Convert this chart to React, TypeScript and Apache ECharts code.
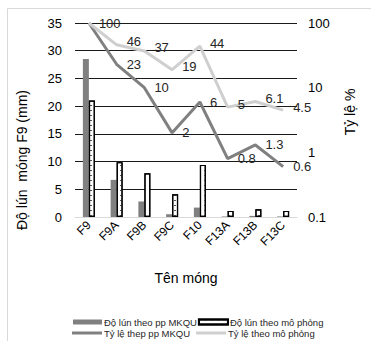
import React, { useEffect, useRef } from "react";
import * as echarts from "echarts";

const categories = ["F9", "F9A", "F9B", "F9C", "F10", "F13A", "F13B", "F13C"];
const settleMKQU = [28.5, 6.7, 2.8, 0.5, 1.7, 0.1, 0.2, 0.1];
const settleSim = [21, 9.9, 7.9, 4.1, 9.4, 1.1, 1.4, 1.1];
const ratioMKQU = [100, 23, 10, 2, 6, 0.8, 1.3, 0.6];
const ratioSim = [100, 46, 37, 19, 44, 5, 6.1, 4.5];
const leftTicks = { min: 0, max: 35, interval: 5 };
const rightTicks = { min: 0.1, max: 100 };

const FONT = "Liberation Sans, Arial, sans-serif";

export default function App() {
  const ref = useRef<HTMLDivElement>(null);
  useEffect(() => {
    if (!ref.current) return;
    const chart = echarts.init(ref.current, null, { renderer: "svg" });
    const labelStyle = {
      show: true,
      position: "right" as const,
      distance: 10,
      fontSize: 13,
      color: "#262626",
      fontFamily: FONT,
    };
    chart.setOption({
      animation: false,
      textStyle: { fontFamily: FONT },
      grid: { left: 75, right: 74, top: 23, bottom: 124, containLabel: false },
      graphic: [
        {
          type: "rect",
          shape: { x: 7.5, y: 8.5, width: 420, height: 420 },
          style: { fill: "none", stroke: "#d9d9d9", lineWidth: 1 },
          silent: true,
        },
        {
          type: "text",
          x: 22,
          y: 160,
          rotation: Math.PI / 2,
          style: {
            text: "Độ lún  móng F9 (mm)",
            fontSize: 14,
            fill: "#000",
            fontFamily: FONT,
            align: "center",
            verticalAlign: "middle",
          },
        },
        {
          type: "text",
          x: 350,
          y: 112,
          rotation: Math.PI / 2,
          style: {
            text: "Tỷ lệ %",
            fontSize: 14,
            fill: "#000",
            fontFamily: FONT,
            align: "center",
            verticalAlign: "middle",
          },
        },
      ],
      legend: [
        {
          left: 68,
          top: 312,
          itemWidth: 29,
          itemHeight: 5,
          itemGap: 1,
          textStyle: { fontSize: 9.5, color: "#262626", fontFamily: FONT, padding: [0, 0, 0, -3] },
          data: [
            { name: "Độ lún theo pp MKQU", icon: "rect" },
            { name: "Độ lún theo mô phỏng", icon: "rect" },
          ],
        },
        {
          left: 67,
          top: 323,
          itemWidth: 30,
          itemHeight: 3,
          itemGap: 6,
          textStyle: { fontSize: 9.5, color: "#262626", fontFamily: FONT, padding: [0, 0, 0, -3] },
          data: [
            { name: "Tỷ lệ thep pp MKQU", icon: "rect" },
            { name: "Tỷ lệ theo mô phỏng", icon: "rect" },
          ],
        },
      ],
      xAxis: {
        type: "category",
        data: categories,
        name: "Tên móng",
        nameLocation: "middle",
        nameGap: 54,
        nameTextStyle: { fontSize: 14, color: "#000", fontFamily: FONT },
        axisLine: { show: true, lineStyle: { color: "#d9d9d9" } },
        axisTick: { show: false },
        axisLabel: { rotate: 45, fontSize: 12, color: "#000", margin: 6, fontFamily: FONT },
      },
      yAxis: [
        {
          type: "value",
          min: leftTicks.min,
          max: leftTicks.max,
          interval: leftTicks.interval,
          axisLine: { show: false },
          axisTick: { show: false },
          axisLabel: { fontSize: 13, color: "#000", margin: 13, fontFamily: FONT },
          splitLine: { show: true, lineStyle: { color: "#1a1a1a", width: 1 } },
        },
        {
          type: "log",
          logBase: 10,
          min: rightTicks.min,
          max: rightTicks.max,
          position: "right",
          axisLine: { show: false },
          axisTick: { show: false },
          axisLabel: { fontSize: 13, color: "#000", margin: 11, fontFamily: FONT },
          splitLine: { show: false },
        },
      ],
      series: [
        {
          name: "Độ lún theo pp MKQU",
          type: "bar",
          data: settleMKQU,
          barWidth: 6,
          barGap: "0%",
          itemStyle: { color: "#808080" },
        },
        {
          name: "Độ lún theo mô phỏng",
          type: "bar",
          data: settleSim,
          barWidth: 6,
          barGap: "0%",
          itemStyle: {
            color: "#ffffff",
            borderColor: "#000",
            borderWidth: 1.2,
            decal: {
              symbol: "rect",
              symbolSize: 1,
              dashArrayX: [[2, 4]],
              dashArrayY: [1, 4],
              color: "#555",
              rotation: 0,
            },
          },
        },
        {
          name: "Tỷ lệ thep pp MKQU",
          type: "line",
          yAxisIndex: 1,
          data: ratioMKQU.map((v, i) => (i === 0 ? { value: v, label: { show: false } } : v)),
          showSymbol: true,
          symbol: "circle",
          symbolSize: 0,
          lineStyle: { color: "#808080", width: 3 },
          itemStyle: { color: "#808080" },
          label: labelStyle,
        },
        {
          name: "Tỷ lệ theo mô phỏng",
          type: "line",
          yAxisIndex: 1,
          data: ratioSim.map((v, i) => (i === 0 ? { value: v, label: { offset: [0, 0] } } : v)),
          showSymbol: true,
          symbol: "circle",
          symbolSize: 0,
          lineStyle: { color: "#cfcfcf", width: 3 },
          itemStyle: { color: "#cfcfcf" },
          label: { ...labelStyle, offset: [0, -3] },
        },
      ],
    });
    return () => chart.dispose();
  }, []);
  return <div ref={ref} style={{ width: 371, height: 341, position: "absolute", left: 0, top: 0 }} />;
}
